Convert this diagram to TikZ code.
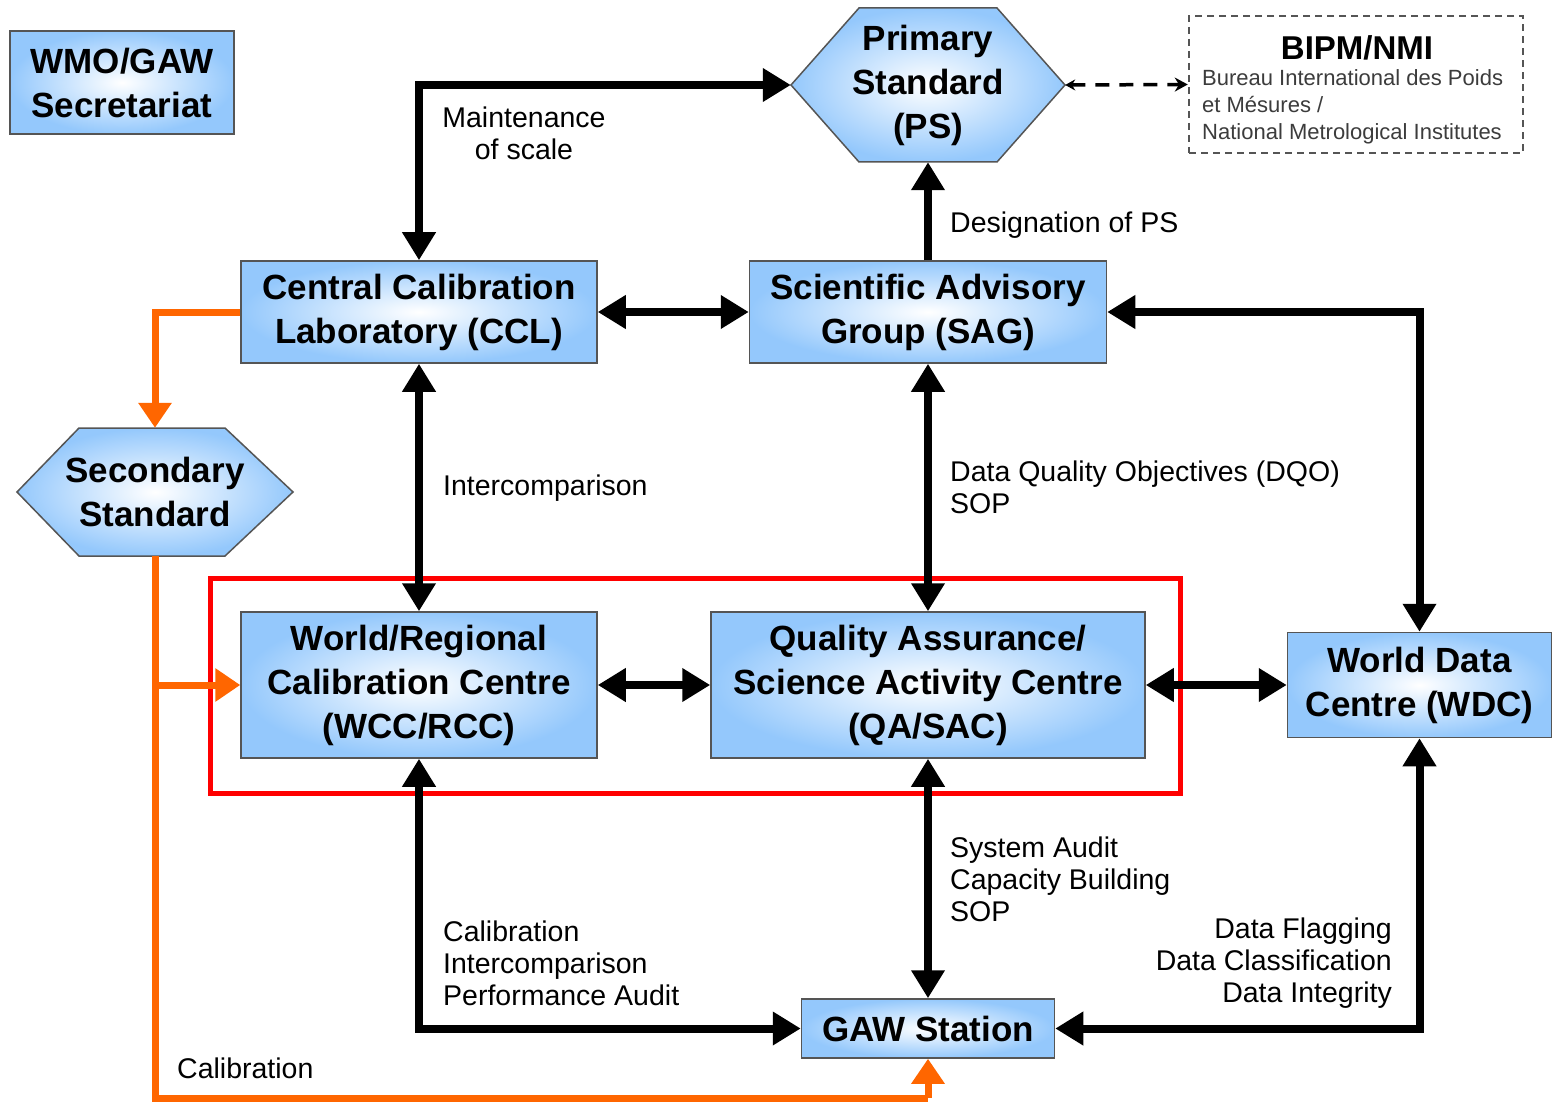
\documentclass[tikz,border=0pt]{standalone}
\usepackage{fontspec}
\setmainfont{Liberation Sans}
\usetikzlibrary{arrows.meta,calc}
\definecolor{boxblue}{RGB}{148,200,252}
\definecolor{edgegray}{RGB}{85,85,85}
\definecolor{flow}{RGB}{255,102,0}
\definecolor{notegray}{RGB}{60,60,60}
\begin{document}
\begin{tikzpicture}[x=1pt,y=-1pt,
  box/.style={rectangle, draw=edgegray, line width=1.5pt, inner color=white, outer color=boxblue,
    font=\fontsize{35}{44}\selectfont\bfseries, align=center, inner sep=0pt},
  hexfill/.style={draw=edgegray, line width=1.5pt, inner color=white, outer color=boxblue, line join=miter},
  hextext/.style={font=\fontsize{35}{44}\selectfont\bfseries, align=center, inner sep=0pt},
  lbl/.style={font=\fontsize{28.5}{32}\selectfont, inner sep=0pt},
  link/.style={line width=8pt, {Triangle[length=28pt,width=32pt]}-{Triangle[length=28pt,width=32pt]}},
  linkto/.style={line width=8pt, -{Triangle[length=28pt,width=32pt]}},
  cal/.style={draw=flow, line width=7pt},
  calto/.style={draw=flow, line width=7pt, -{Triangle[length=25pt,width=32pt]}},
]
\useasboundingbox (0,0) rectangle (1553,1102);
\fill[white] (0,0) rectangle (1553,1102);

% hexagons
\coordinate (psc) at (928,85);
\shade[hexfill] ($(psc)+(-137,0)$) -- ($(psc)+(-69,-77)$) -- ($(psc)+(69,-77)$) -- ($(psc)+(137,0)$)
  -- ($(psc)+(69,77)$) -- ($(psc)+(-69,77)$) -- cycle;
\node[hextext, minimum width=274pt, minimum height=154pt] (ps) at (psc) {Primary\\Standard\\(PS)};

\coordinate (ssc) at (155,492);
\shade[hexfill] ($(ssc)+(-138,0)$) -- ($(ssc)+(-76,-64)$) -- ($(ssc)+(70,-64)$) -- ($(ssc)+(138,0)$)
  -- ($(ssc)+(70,64)$) -- ($(ssc)+(-76,64)$) -- cycle;
\node[hextext, minimum width=276pt, minimum height=128pt] (ss) at (ssc) {Secondary\\Standard};

% boxes
\node[box, minimum width=224pt, minimum height=103pt] (wmo) at (122,82.5) {WMO/GAW\\Secretariat};
\node[box, minimum width=356pt, minimum height=102pt] (ccl) at (419,312) {Central Calibration\\Laboratory (CCL)};
\node[box, minimum width=357pt, minimum height=102pt] (sag) at (928,312) {Scientific Advisory\\Group (SAG)};
\node[box, minimum width=356pt, minimum height=146pt] (wcc) at (419,685) {World/Regional\\Calibration Centre\\(WCC/RCC)};
\node[box, minimum width=434pt, minimum height=146pt] (qa) at (928,685) {Quality Assurance/\\Science Activity Centre\\(QA/SAC)};
\node[box, minimum width=264pt, minimum height=105pt] (wdc) at (1419.5,685) {World Data\\Centre (WDC)};
\node[box, minimum width=253pt, minimum height=59pt] (gaw) at (928,1028.5) {GAW Station};

% BIPM box
\node[draw=edgegray, dash pattern=on 7pt off 5pt, line width=2.5pt, minimum width=334pt, minimum height=137pt, inner sep=0pt] (bipm) at (1356,84.5) {};
\node[font=\fontsize{33}{36}\selectfont\bfseries, inner sep=0pt] (bipmt) at (1357,48) {BIPM/NMI};
\node[font=\fontsize{22}{27}\selectfont, text=notegray, align=left, anchor=west, inner sep=0pt] (bipmb) at (1202,107)
  {Bureau International des Poids\\et Mésures /\\National Metrological Institutes};

% red focus frame
\node[draw=red, line width=5pt, minimum width=970pt, minimum height=215pt, inner sep=0pt] (focus) at (695,685.5) {};

% black connectors
\draw[link] (ccl.north) |- (ps.west);
\draw[linkto] (sag.north) -- (ps.south);
\draw[link] (ccl.east) -- (sag.west);
\draw[link] (sag.east) -| (wdc.north);
\draw[link] (ccl.south) -- (wcc.north);
\draw[link] (sag.south) -- (qa.north);
\draw[link] (wcc.east) -- (qa.west);
\draw[link] (qa.east) -- (wdc.west);
\draw[link] (wcc.south) |- (gaw.west);
\draw[link] (qa.south) -- (gaw.north);
\draw[link] (wdc.south) |- (gaw.east);

% dashed link to BIPM
\draw[line width=3.5pt, dash pattern=on 14pt off 10pt, {Stealth[length=10pt,width=11pt]}-{Stealth[length=13pt,width=14pt]}] (ps.east) -- (bipm.west);

% orange calibration lines
\coordinate (calbot) at (928,1098);
\coordinate (branch) at (ss.south |- wcc.west);
\draw[calto] (ccl.west) -| (ss.north);
\draw[cal] (ss.south) |- (calbot);
\draw[calto] (calbot) -- (gaw.south);
\draw[calto] (branch) -- (wcc.west);

% labels
\node[lbl, align=center] (lmaint) at (524,133) {Maintenance\\of scale};
\node[lbl, anchor=west] (ldesig) at (950,225) {Designation of PS};
\node[lbl, anchor=west] (linter) at (443,488) {Intercomparison};
\node[lbl, anchor=west, align=left] (ldqo) at (950,487) {Data Quality Objectives (DQO)\\SOP};
\node[lbl, anchor=west, align=left] (laudit) at (950,879) {System Audit\\Capacity Building\\SOP};
\node[lbl, anchor=west, align=left] (lcal) at (443,963) {Calibration\\Intercomparison\\Performance Audit};
\node[lbl, anchor=east, align=right] (ldata) at (1392,963) {Data Flagging\\Data Classification\\Data Integrity};
\node[lbl, anchor=west] (lcal2) at (177,1068) {Calibration};
\end{tikzpicture}
\end{document}
